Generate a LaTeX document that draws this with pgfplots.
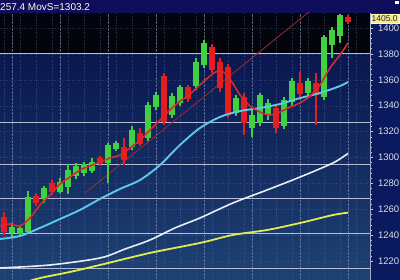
\documentclass[border=0pt]{standalone}
\usepackage{pgfplots}
\pgfplotsset{compat=1.18}
\usepackage{pgfplotstable}
\usepackage{fontspec}
\setmainfont{Liberation Sans}

\definecolor{hdr}{HTML}{0E0E5C}
\definecolor{panel}{HTML}{0B1A5E}
\definecolor{topblack}{HTML}{03040C}
\definecolor{navyA}{HTML}{0A1650}
\definecolor{navyB}{HTML}{1E4274}
\definecolor{hline}{HTML}{B4BCD8}
\definecolor{gridc}{HTML}{5A78A8}
\definecolor{cgreen}{HTML}{40D040}
\definecolor{cred}{HTML}{E41E1E}
\definecolor{mared}{HTML}{D42A2A}
\definecolor{trend}{HTML}{9A2C2C}
\definecolor{cyanma}{HTML}{5CC8EC}
\definecolor{whitema}{HTML}{E8EEF8}
\definecolor{yellowma}{HTML}{E2EC50}
\definecolor{pricebox}{HTML}{F2EA96}
\definecolor{ticklab}{HTML}{DADEEA}

% red (falling) candles: index, open, high, low, close
\pgfplotstableread{
i o h l c
0 1254.1 1257.9 1240.2 1242.5
4 1270.3 1272.6 1262.5 1264.9
6 1280.3 1282.6 1271.0 1273.4
12 1299.6 1301.2 1293.4 1295.0
15 1308.1 1315.1 1294.2 1298.1
17 1318.9 1322.8 1308.9 1310.4
20 1362.9 1365.3 1325.1 1327.4
23 1354.4 1356.0 1342.9 1345.2
26 1385.3 1387.6 1365.3 1367.6
27 1373.7 1376.8 1350.6 1353.7
28 1369.9 1372.2 1330.5 1332.8
30 1346.7 1349.8 1317.4 1326.6
34 1338.2 1341.3 1318.9 1322.8
37 1357.5 1366.0 1346.7 1349.0
39 1357.5 1365.3 1325.1 1348.3
43 1408.5 1410.0 1403.1 1404.6
}\redc

% green (rising) candles
\pgfplotstableread{
i o h l c
1 1241.7 1249.4 1238.6 1246.3
2 1240.9 1247.9 1238.6 1245.6
3 1242.5 1274.1 1240.9 1269.5
5 1268.0 1278.0 1264.9 1276.4
7 1273.4 1284.2 1272.6 1281.1
8 1277.2 1295.0 1271.8 1290.3
9 1285.7 1295.8 1283.4 1293.4
10 1288.0 1296.5 1285.7 1295.0
11 1289.6 1299.6 1288.0 1296.5
13 1295.8 1311.2 1280.3 1309.7
14 1306.6 1312.7 1305.0 1311.2
16 1308.1 1324.3 1305.8 1321.2
18 1315.1 1342.9 1312.7 1340.5
19 1339.0 1350.6 1336.7 1348.3
21 1332.8 1349.8 1330.5 1347.5
22 1342.1 1356.0 1339.8 1354.4
24 1355.2 1376.8 1352.1 1373.7
25 1371.4 1390.7 1369.1 1388.4
29 1334.4 1348.3 1332.0 1345.9
31 1322.8 1338.2 1315.8 1332.8
32 1326.6 1349.8 1324.3 1348.3
33 1332.8 1345.2 1329.0 1342.1
35 1324.3 1346.7 1322.0 1344.4
36 1342.9 1361.4 1339.8 1359.1
38 1349.8 1361.4 1347.5 1359.1
40 1346.7 1394.6 1344.4 1393.1
41 1386.9 1400.8 1376.8 1398.5
42 1393.8 1411.0 1388.4 1410.0
}\greenc

\begin{document}
\begin{tikzpicture}
\useasboundingbox (0,0) rectangle (400pt,280pt);
% header band and right-hand panel
\fill[hdr] (0,267pt) rectangle (400pt,280pt);
\fill[panel] (370pt,0) rectangle (400pt,267pt);
\fill[white] (395pt,276pt) rectangle (399pt,279pt);
\node[anchor=west, inner sep=0pt, text=white!90!yellow, font=\fontsize{10}{10}\selectfont] at (0pt,273.2pt) {257.4 MovS=1303.2};

\begin{axis}[
  at={(0,0)}, anchor=south west,
  scale only axis, width=370pt, height=267pt,
  xmin=-0.5, xmax=45.75, ymin=1205.4, ymax=1411.6,
  axis x line=none,
  axis y line*=right,
  axis line style={draw=hline, line width=0.8pt},
  xtick=\empty,
  ytick={1220,1240,...,1400},
  minor y tick num=4,
  tick align=outside,
  major tick length=3pt,
  minor tick length=1.5pt,
  tick style={draw=hline!80, line width=0.5pt},
  /pgf/number format/assume math mode=true,
  /pgf/number format/1000 sep={},
  yticklabel style={font=\fontsize{9.5}{10}\selectfont, text=ticklab, anchor=west, xshift=1.5pt},
]
% backgrounds
\fill[topblack] (axis cs:-0.5,1380.7) rectangle (axis cs:45.75,1411.6);
\shade[top color=navyA, bottom color=navyB] (axis cs:-0.5,1205.4) rectangle (axis cs:45.75,1380.7);
% faint dotted grid
\pgfplotsinvokeforeach{0,2,...,44}{\draw[gridc, dotted, opacity=0.45] (axis cs:#1,1205.4) -- (axis cs:#1,1411.6);}
\pgfplotsinvokeforeach{1,7,13,19,25,31,37,43}{\draw[gridc!70!white, densely dotted, opacity=0.6] (axis cs:#1,1205.4) -- (axis cs:#1,1411.6);}
\pgfplotsinvokeforeach{1220,1240,...,1400}{\draw[gridc, dotted, opacity=0.35] (axis cs:-0.5,#1) -- (axis cs:45.75,#1);}
% bright horizontal levels
\pgfplotsinvokeforeach{1380.7,1327.4,1295.0,1268.7,1241.7,1214.7}{\draw[hline, line width=0.9pt] (axis cs:-0.5,#1) -- (axis cs:45.75,#1);}

% long moving averages
\addplot[yellowma, line width=1.8pt, smooth] coordinates {
(2,1202.3) (4.5,1206.9) (8.25,1211.6) (12,1217.0) (18.25,1226.3) (24.5,1234.0)
(28.625,1240.2) (32.875,1244.0) (37,1249.4) (41.125,1255.6) (43,1257.4)};
\addplot[whitema, line width=1.6pt, smooth] coordinates {
(-0.5,1214.7) (5.75,1217.0) (12,1222.4) (15.125,1229.3) (18.25,1236.3) (21.375,1245.6)
(24.5,1253.3) (28.625,1264.9) (32.875,1274.9) (37,1284.9) (41.125,1295.8) (43,1303.2)};
% trend line
\addplot[trend, line width=0.8pt] coordinates {(10.125,1272.6) (38.25,1413.1)};

% candles: wicks then bodies
\addplot[draw=none, mark=none, error bars/.cd, y dir=both, y explicit, error mark=none,
  error bar style={draw=cred, line width=1.1pt}]
  table[x=i, y expr={(\thisrow{h}+\thisrow{l})/2}, y error expr={(\thisrow{h}-\thisrow{l})/2}] {\redc};
\addplot[draw=none, mark=none, error bars/.cd, y dir=both, y explicit, error mark=none,
  error bar style={draw=cgreen, line width=1.1pt}]
  table[x=i, y expr={(\thisrow{h}+\thisrow{l})/2}, y error expr={(\thisrow{h}-\thisrow{l})/2}] {\greenc};
\addplot[draw=none, mark=none, error bars/.cd, y dir=both, y explicit, error mark=none,
  error bar style={draw=cred, line width=5.5pt}]
  table[x=i, y expr={(\thisrow{o}+\thisrow{c})/2}, y error expr={abs(\thisrow{o}-\thisrow{c})/2}] {\redc};
\addplot[draw=none, mark=none, error bars/.cd, y dir=both, y explicit, error mark=none,
  error bar style={draw=cgreen, line width=5.5pt}]
  table[x=i, y expr={(\thisrow{o}+\thisrow{c})/2}, y error expr={abs(\thisrow{o}-\thisrow{c})/2}] {\greenc};

% short moving averages
\addplot[cyanma, line width=1.9pt, smooth] coordinates {
(-0.5,1237.1) (2,1239.4) (4.5,1245.6) (7,1252.5) (9.5,1259.5) (12,1268.0) (14.5,1275.7)
(17,1282.6) (19.5,1294.2) (22,1309.7) (24.5,1322.8) (27,1331.3) (29.5,1335.9) (32,1338.2)
(34.5,1341.3) (37,1345.9) (39.5,1349.8) (42,1355.2) (43,1358.3)};
\addplot[mared, line width=1.6pt, smooth] coordinates {
(-0.5,1247.1) (0.75,1248.7) (2,1247.1) (3.25,1253.3) (4.5,1263.3) (5.75,1271.0) (7,1279.5)
(8.25,1284.9) (9.5,1290.3) (10.75,1293.4) (12,1296.5) (13.25,1299.6) (14.5,1301.9)
(15.75,1307.3) (17,1313.5) (18.25,1321.2) (19.5,1329.0) (20.75,1336.7) (22,1343.6)
(23.25,1349.0) (24.5,1356.0) (25.75,1362.9) (26.75,1366.8) (27.625,1365.3) (28.5,1358.3)
(29.5,1348.3) (30.75,1339.8) (32,1335.1) (33.25,1332.8) (34.5,1335.1) (35.75,1339.0)
(37,1342.1) (38.25,1347.5) (39.5,1356.0) (40.75,1369.1) (42,1379.2) (43,1388.4)};

\coordinate (priceP) at (axis cs:45.75,1407.2);
\end{axis}
\node[anchor=west, fill=pricebox, draw=white!70!yellow, line width=0.4pt, inner sep=1pt,
  text=black!85, font=\fontsize{8.5}{8.5}\selectfont] at ([xshift=0.5pt]priceP) {1405.0};
\end{tikzpicture}
\end{document}
